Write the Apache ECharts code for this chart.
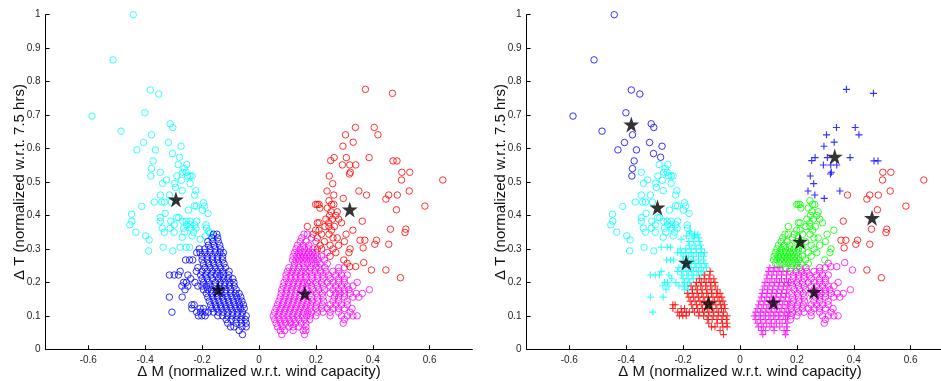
<!DOCTYPE html>
<html><head><meta charset="utf-8">
<script src="https://cdn.jsdelivr.net/npm/echarts@6/dist/echarts.min.js"></script>
<style>html,body{margin:0;padding:0;background:#fff}#c{width:941px;height:381px}</style>
</head><body><div id="c"></div>
<script>
const xTicks = [-0.6,-0.4,-0.2,0,0.2,0.4,0.6];
const xName = 'Δ M (normalized w.r.t. wind capacity)';
const yName = 'Δ T (normalized w.r.t. 7.5 hrs)';

// top-left outliers (left: cyan o, right: blue o)
const blueO = [[-0.442,1.0],[-0.513,0.865],[-0.382,0.775],[-0.352,0.763],[-0.587,0.697],[-0.401,0.707],[-0.485,0.652],[-0.378,0.641],[-0.312,0.674],[-0.303,0.663],[-0.406,0.618],[-0.318,0.618],[-0.429,0.596],[-0.364,0.596],[-0.274,0.607],[-0.304,0.585],[-0.279,0.574],[-0.372,0.563],[-0.378,0.54],[-0.38,0.518]];
// left: cyan o, right: cyan o
const cyanO = [[-0.347,0.529],[-0.284,0.552],[-0.254,0.552],[-0.263,0.54],[-0.268,0.529],[-0.256,0.529],[-0.251,0.518],[-0.242,0.518],[-0.235,0.518],[-0.289,0.518],[-0.273,0.505],[-0.242,0.496],[-0.339,0.496],[-0.325,0.506],[-0.296,0.496],[-0.294,0.484],[-0.27,0.474],[-0.222,0.474],[-0.226,0.461],[-0.347,0.461],[-0.315,0.461],[-0.368,0.44],[-0.342,0.44],[-0.332,0.44],[-0.308,0.44],[-0.412,0.427],[-0.227,0.429],[-0.219,0.428],[-0.195,0.438],[-0.191,0.428],[-0.248,0.416],[-0.199,0.416],[-0.448,0.404],[-0.179,0.406],[-0.33,0.406],[-0.289,0.394],[-0.282,0.394],[-0.347,0.394],[-0.447,0.383],[-0.347,0.383],[-0.31,0.383],[-0.268,0.383],[-0.256,0.383],[-0.242,0.383],[-0.219,0.383],[-0.454,0.372],[-0.298,0.372],[-0.254,0.372],[-0.242,0.372],[-0.226,0.372],[-0.186,0.372],[-0.34,0.362],[-0.312,0.362],[-0.265,0.362],[-0.239,0.362],[-0.221,0.362],[-0.184,0.362],[-0.433,0.35],[-0.333,0.35],[-0.298,0.35],[-0.261,0.35],[-0.23,0.35],[-0.398,0.339],[-0.235,0.339],[-0.386,0.327],[-0.27,0.335],[-0.337,0.305],[-0.388,0.294],[-0.303,0.294]];
// left: cyan o, right: cyan +
const cyanPlusFromCyan = [[-0.277,0.305],[-0.256,0.305],[-0.244,0.305],[-0.177,0.352],[-0.172,0.347],[-0.188,0.339],[-0.16,0.339],[-0.207,0.329]];
// rows [y, [x...]] ; left: blue o, right: cyan +
const cyanPlusRows = [
 [0.344,[-0.16,-0.148]],
 [0.333,[-0.165,-0.145]],
 [0.322,[-0.18,-0.162,-0.143]],
 [0.311,[-0.178,-0.158,-0.138]],
 [0.300,[-0.21,-0.19,-0.172,-0.154,-0.135]],
 [0.289,[-0.219,-0.207,-0.19,-0.172,-0.154,-0.137,-0.125]],
 [0.278,[-0.2,-0.182,-0.164,-0.146,-0.128]],
 [0.267,[-0.258,-0.244,-0.233,-0.2,-0.182,-0.164,-0.146,-0.128]],
 [0.256,[-0.195,-0.177,-0.159,-0.141,-0.123]],
 [0.244,[-0.215,-0.19,-0.172,-0.154,-0.136,-0.118]],
 [0.233,[-0.277,-0.22,-0.2,-0.182,-0.164,-0.146,-0.128]],
 [0.222,[-0.315,-0.298,-0.283,-0.25,-0.205,-0.187,-0.169,-0.151,-0.137]],
 [0.211,[-0.24,-0.2,-0.182,-0.164]],
 [0.200,[-0.265,-0.255,-0.225,-0.195,-0.177]],
 [0.189,[-0.271,-0.25,-0.215,-0.2,-0.185]],
 [0.178,[-0.26,-0.195,-0.18]],
 [0.156,[-0.315,-0.27]],
 [0.111,[-0.306]]
];
// left: blue o, right: red +
const redPlusRows = [
 [0.233,[-0.105]],
 [0.222,[-0.124,-0.106]],
 [0.211,[-0.143,-0.126,-0.109,-0.092]],
 [0.200,[-0.153,-0.136,-0.119,-0.102,-0.088]],
 [0.189,[-0.172,-0.155,-0.138,-0.121,-0.104,-0.087]],
 [0.178,[-0.167,-0.15,-0.133,-0.116,-0.099,-0.08]],
 [0.167,[-0.185,-0.168,-0.151,-0.134,-0.117,-0.1,-0.083,-0.07]],
 [0.156,[-0.18,-0.163,-0.146,-0.129,-0.112,-0.095,-0.078,-0.064]],
 [0.144,[-0.175,-0.158,-0.141,-0.124,-0.107,-0.09,-0.073,-0.06]],
 [0.133,[-0.236,-0.228,-0.17,-0.153,-0.136,-0.119,-0.102,-0.085,-0.068,-0.055]],
 [0.122,[-0.236,-0.207,-0.195,-0.166,-0.149,-0.132,-0.115,-0.098,-0.081,-0.065,-0.052]],
 [0.111,[-0.219,-0.205,-0.189,-0.178,-0.16,-0.143,-0.126,-0.109,-0.092,-0.075,-0.058]],
 [0.100,[-0.213,-0.201,-0.189,-0.145,-0.128,-0.111,-0.094,-0.077,-0.06,-0.045]],
 [0.089,[-0.115,-0.098,-0.081,-0.064,-0.048]],
 [0.078,[-0.11,-0.08,-0.062,-0.045]],
 [0.067,[-0.1,-0.088,-0.06,-0.045]],
 [0.056,[-0.07]],
 [0.044,[-0.058]]
];
// left: magenta o, right: magenta +
const magentaPlusRows = [
 [0.244,[0.105,0.122,0.14]],
 [0.233,[0.1,0.117,0.134,0.151,0.165]],
 [0.222,[0.095,0.112,0.129,0.146,0.163]],
 [0.211,[0.095,0.112,0.129,0.146,0.163]],
 [0.200,[0.088,0.105,0.122,0.139,0.156,0.17]],
 [0.189,[0.085,0.102,0.119,0.136,0.153,0.168]],
 [0.178,[0.08,0.097,0.114,0.131,0.148,0.165]],
 [0.167,[0.078,0.095,0.112,0.129,0.146,0.163]],
 [0.156,[0.075,0.092,0.109,0.126,0.143,0.16]],
 [0.144,[0.07,0.087,0.104,0.121,0.138,0.155,0.172]],
 [0.133,[0.065,0.082,0.099,0.116,0.133,0.15,0.167]],
 [0.122,[0.06,0.077,0.094,0.111,0.128,0.145,0.162]],
 [0.111,[0.055,0.072,0.089,0.106,0.123,0.14,0.157,0.172]],
 [0.100,[0.05,0.067,0.084,0.101,0.118,0.135,0.152,0.167]],
 [0.089,[0.055,0.072,0.089,0.106,0.123,0.14,0.16]],
 [0.078,[0.06,0.077,0.094,0.111,0.128,0.148,0.165]],
 [0.067,[0.065,0.082,0.105,0.12,0.14,0.165]],
 [0.056,[0.075,0.09,0.12,0.155,0.165]],
 [0.044,[0.08,0.16]]
];
// left: magenta o, right: magenta o
const magentaORows = [
 [0.244,[0.21,0.232,0.28,0.3]],
 [0.233,[0.178,0.197,0.216,0.235,0.26,0.28]],
 [0.222,[0.187,0.206,0.225,0.245,0.27,0.29,0.31]],
 [0.211,[0.187,0.206,0.225,0.25,0.28,0.3]],
 [0.200,[0.18,0.2,0.22,0.24,0.26,0.28,0.3,0.345]],
 [0.189,[0.185,0.205,0.225,0.25,0.27,0.29,0.31,0.33]],
 [0.178,[0.19,0.21,0.23,0.26,0.28,0.3,0.316,0.388]],
 [0.167,[0.182,0.202,0.222,0.25,0.27,0.285,0.3,0.32,0.342,0.363]],
 [0.156,[0.185,0.205,0.225,0.265,0.28,0.3,0.33,0.351]],
 [0.144,[0.187,0.207,0.227,0.26,0.28,0.31]],
 [0.133,[0.182,0.202,0.222,0.25,0.27,0.29,0.31]],
 [0.122,[0.18,0.2,0.22,0.24,0.26,0.28,0.3,0.327]],
 [0.111,[0.185,0.205,0.225,0.25,0.28,0.32]],
 [0.100,[0.18,0.2,0.25,0.29,0.31,0.33,0.345]],
 [0.089,[0.178,0.3]],
 [0.078,[0.296]]
];
// left: magenta o, right: green o
const greenFromMagentaRows = [
 [0.344,[0.158,0.17]],
 [0.333,[0.15,0.185]],
 [0.322,[0.145,0.165,0.2]],
 [0.311,[0.135,0.155,0.175]],
 [0.300,[0.13,0.145,0.16,0.175,0.19]],
 [0.289,[0.125,0.14,0.152,0.163,0.175,0.187,0.2,0.24]],
 [0.278,[0.12,0.133,0.145,0.157,0.168,0.18,0.192,0.205,0.22]],
 [0.267,[0.118,0.13,0.142,0.155,0.167,0.18,0.193,0.207,0.23]],
 [0.256,[0.125,0.14,0.155,0.17,0.185,0.2,0.215,0.24]],
 [0.244,[0.16,0.18,0.2]]
];
// left: red o, right: green o
const greenFromRedRows = [
 [0.444,[0.246]],
 [0.433,[0.199,0.205,0.211,0.255,0.263]],
 [0.422,[0.214,0.24]],
 [0.411,[0.253,0.275]],
 [0.400,[0.248,0.27]],
 [0.389,[0.235,0.258,0.28]],
 [0.378,[0.205,0.211,0.245,0.29]],
 [0.367,[0.17,0.232,0.246,0.265]],
 [0.356,[0.199,0.211,0.255,0.33]],
 [0.344,[0.19,0.22,0.246,0.306]],
 [0.333,[0.205,0.26,0.275]],
 [0.322,[0.23,0.3]],
 [0.311,[0.215,0.25,0.28]],
 [0.300,[0.205,0.22,0.26,0.32]],
 [0.289,[0.27,0.316]],
 [0.278,[0.25]],
 [0.267,[0.298]]
];
// left: red o, right: blue +
const bluePlus = [[0.374,0.777],[0.469,0.765],[0.339,0.663],[0.405,0.663],[0.418,0.641],[0.304,0.641],[0.331,0.619],[0.295,0.607],[0.264,0.573],[0.252,0.564],[0.307,0.573],[0.387,0.573],[0.293,0.551],[0.319,0.551],[0.34,0.551],[0.321,0.529],[0.318,0.524],[0.471,0.563],[0.485,0.563],[0.247,0.518],[0.259,0.495],[0.239,0.473],[0.263,0.461],[0.296,0.451],[0.351,0.473]];
// left: red o, right: red o
const redO = [[0.502,0.529],[0.53,0.529],[0.501,0.506],[0.646,0.506],[0.378,0.461],[0.456,0.461],[0.486,0.461],[0.528,0.473],[0.446,0.449],[0.583,0.428],[0.483,0.417],[0.363,0.383],[0.462,0.359],[0.516,0.359],[0.513,0.349],[0.355,0.326],[0.372,0.326],[0.413,0.326],[0.407,0.314],[0.456,0.314],[0.366,0.303],[0.446,0.237],[0.497,0.214]];
// left: red o, right: magenta o
const magentaOFromRed = [[0.31,0.257],[0.319,0.247],[0.34,0.247],[0.368,0.259],[0.395,0.237]];

const leftCentroids = [[-0.292,0.448],[-0.143,0.179],[0.161,0.167],[0.319,0.418]];
const rightCentroids = [[-0.382,0.672],[-0.29,0.424],[-0.189,0.259],[-0.111,0.137],[0.117,0.14],[0.211,0.322],[0.26,0.172],[0.333,0.576],[0.464,0.393]];

function flat(rows){ const out=[]; rows.forEach(r=>r[1].forEach(x=>out.push([x,r[0]]))); return out; }

// symbol shapes
const plusPath = 'path://M0.42,0H0.58V0.42H1V0.58H0.58V1H0.42V0.58H0V0.42H0.42Z';
let sp = 'path://';
for (let i=0;i<10;i++){ const r = i%2===0?1:0.382; const a = (-90+i*36)*Math.PI/180; sp += (i===0?'M':'L') + (r*Math.cos(a)).toFixed(4) + ',' + (r*Math.sin(a)).toFixed(4); }
const starPath = sp + 'Z';

const C = {cyan:'#00ffff', blue:'#0000ff', magenta:'#ff00ff', red:'#ff0000', green:'#00ff00'};
function circ(data, color, g){ return {type:'scatter', xAxisIndex:g, yAxisIndex:g, data, symbol:'circle', symbolSize:6.5, itemStyle:{color:'rgba(0,0,0,0)', borderColor:color, borderWidth:1}, silent:true}; }
function plus(data, color, g){ return {type:'scatter', xAxisIndex:g, yAxisIndex:g, data, symbol:plusPath, symbolSize:7, itemStyle:{color:color}, silent:true}; }
function star(data, g){ return {type:'scatter', xAxisIndex:g, yAxisIndex:g, data, symbol:starPath, symbolSize:16, itemStyle:{color:'#000'}, silent:true, z:5}; }

const font = 'Liberation Sans, Arial, Helvetica, sans-serif';
function xAx(g){ return {gridIndex:g, type:'value', min:-0.75, max:0.75,
  axisLine:{onZero:false, lineStyle:{color:'#000', width:1}},
  axisTick:{inside:true, length:4, customValues:xTicks, lineStyle:{color:'#000'}},
  axisLabel:{customValues:xTicks, color:'#262626', fontSize:10, fontFamily:font, margin:6},
  splitLine:{show:false}, name:xName, nameLocation:'middle', nameGap:15, nameMoveOverlap:false,
  nameTextStyle:{fontSize:15, color:'#111', fontFamily:font}}; }
function yAx(g){ return {gridIndex:g, type:'value', min:0, max:1, interval:0.1,
  axisLine:{show:true, onZero:false, lineStyle:{color:'#000', width:1}},
  axisTick:{show:true, inside:true, length:4, lineStyle:{color:'#000'}},
  axisLabel:{color:'#262626', fontSize:10, fontFamily:font, margin:5},
  splitLine:{show:false}, name:yName, nameLocation:'middle', nameGap:18, nameMoveOverlap:false,
  nameTextStyle:{fontSize:15, color:'#111', fontFamily:font}}; }

const chart = echarts.init(document.getElementById('c'), null, {renderer:'canvas'});
chart.setOption({
  animation:false,
  grid:[
    {left:45.6, top:14.7, width:426.8, height:334.6, containLabel:false, outerBoundsMode:'none'},
    {left:526.6, top:14.7, width:426.8, height:334.6, containLabel:false, outerBoundsMode:'none'}
  ],
  xAxis:[xAx(0), xAx(1)],
  yAxis:[yAx(0), yAx(1)],
  series:[
    circ(blueO.concat(cyanO, cyanPlusFromCyan), C.cyan, 0),
    circ(flat(cyanPlusRows).concat(flat(redPlusRows)), C.blue, 0),
    circ(flat(magentaPlusRows).concat(flat(magentaORows), flat(greenFromMagentaRows)), C.magenta, 0),
    circ(flat(greenFromRedRows).concat(bluePlus, redO, magentaOFromRed), C.red, 0),
    star(leftCentroids, 0),

    circ(blueO, C.blue, 1),
    circ(cyanO, C.cyan, 1),
    plus(cyanPlusFromCyan.concat(flat(cyanPlusRows)), C.cyan, 1),
    plus(flat(redPlusRows), C.red, 1),
    plus(flat(magentaPlusRows), C.magenta, 1),
    circ(flat(magentaORows).concat(magentaOFromRed), C.magenta, 1),
    circ(flat(greenFromMagentaRows).concat(flat(greenFromRedRows)), C.green, 1),
    plus(bluePlus, C.blue, 1),
    circ(redO, C.red, 1),
    star(rightCentroids, 1)
  ]
});
</script></body></html>
